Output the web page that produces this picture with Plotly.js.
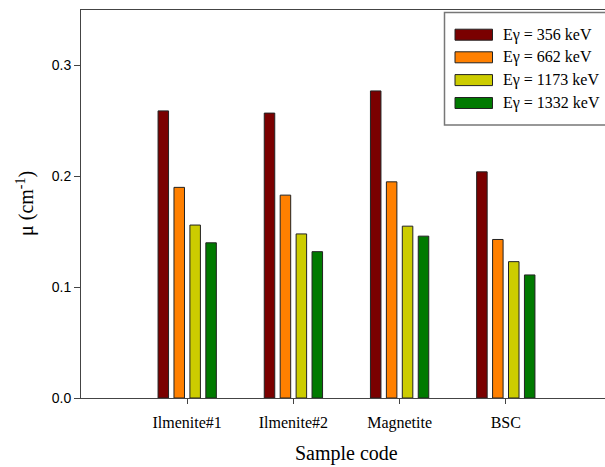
<!DOCTYPE html>
<html>
<head>
<meta charset="utf-8">
<script src="https://cdn.plot.ly/plotly-3.0.1.min.js"></script>
<style>html,body{margin:0;padding:0;background:#fff;overflow:hidden;width:605px;height:467px;}#chart{width:612px;height:467px;}</style>
</head>
<body>
<div id="chart"></div>
<script>
const categories = ["Ilmenite#1", "Ilmenite#2", "Magnetite", "BSC"];
const seriesNames = ["E\u03B3 = 356 keV", "E\u03B3 = 662 keV", "E\u03B3 = 1173 keV", "E\u03B3 = 1332 keV"];
const e356 = [0.259, 0.257, 0.277, 0.204];
const e662 = [0.190, 0.183, 0.195, 0.143];
const e1173 = [0.156, 0.148, 0.155, 0.123];
const e1332 = [0.140, 0.132, 0.146, 0.111];
const colors = ["#7a0000", "#ff8000", "#cccc00", "#007a00"];
const seriesValues = [e356, e662, e1173, e1332];

const W = 612, H = 467;
const mL = 81, mR = 0, mT = 10, mB = 69;
const pw = W - mL - mR, ph = H - mT - mB;
const px = x => (x - mL) / pw;
const py = y => (H - mB - y) / ph;

const traces = seriesValues.map((v, i) => ({
  type: "bar",
  x: categories,
  y: v,
  name: seriesNames[i],
  marker: {color: colors[i], line: {color: "#222", width: 1}},
  showlegend: false,
  hoverinfo: "x+y"
}));

const serif = "Liberation Serif, Times New Roman, serif";
const shapes = [{
  type: "rect", xref: "paper", yref: "paper",
  x0: px(444.5), x1: 1.05, y0: py(125), y1: py(12.5),
  line: {color: "#777", width: 1.5}, fillcolor: "#fff", layer: "above"
}];
const annotations = [
  {text: "\u03BC (cm<sup>-1</sup>)", xref: "paper", yref: "paper", x: px(25), y: 0.5,
   xanchor: "center", yanchor: "middle",
   textangle: -90, showarrow: false, font: {family: serif, size: 20, color: "#000"}},
  {text: "Sample code", xref: "paper", yref: "paper", x: px(346.5), y: py(466),
   xanchor: "center", yanchor: "bottom", showarrow: false, borderpad: 0,
   font: {family: serif, size: 20, color: "#000"}}
];
const itemY = [34.7, 57.3, 80.1, 103];
seriesNames.forEach((n, i) => {
  shapes.push({
    type: "rect", xref: "paper", yref: "paper",
    x0: px(455), x1: px(492.5), y0: py(itemY[i] + 5.5), y1: py(itemY[i] - 5.5),
    fillcolor: colors[i], line: {color: "#222", width: 1}, layer: "above"
  });
  annotations.push({
    text: n, xref: "paper", yref: "paper", x: px(501), y: py(itemY[i]),
    xanchor: "left", yanchor: "middle", showarrow: false,
    font: {family: serif, size: 16, color: "#000"}
  });
});

const layout = {
  width: W, height: H,
  margin: {l: mL, r: mR, t: mT, b: mB, pad: 0},
  paper_bgcolor: "#fff", plot_bgcolor: "#fff",
  barmode: "group", bargap: 0.4, bargroupgap: 0.34,
  xaxis: {
    type: "category", range: [-1, 4],
    showline: true, mirror: true, linecolor: "#444", linewidth: 1,
    ticks: "outside", ticklen: 5, tickcolor: "#444", tickwidth: 1,
    ticklabelstandoff: 5,
    showgrid: false, zeroline: false,
    tickfont: {family: serif, size: 16, color: "#000"}
  },
  yaxis: {
    range: [0, 0.35], dtick: 0.1, tick0: 0, tickformat: ".1f",
    showline: true, mirror: false, linecolor: "#444", linewidth: 1,
    ticks: "outside", ticklen: 6, tickcolor: "#444", tickwidth: 1,
    showgrid: false, zeroline: false,
    tickfont: {family: "Liberation Sans, Arial, sans-serif", size: 14, color: "#000"}
  },
  shapes: shapes,
  annotations: annotations,
  showlegend: false
};

Plotly.newPlot("chart", traces, layout, {displayModeBar: false, staticPlot: true});
</script>
</body>
</html>
